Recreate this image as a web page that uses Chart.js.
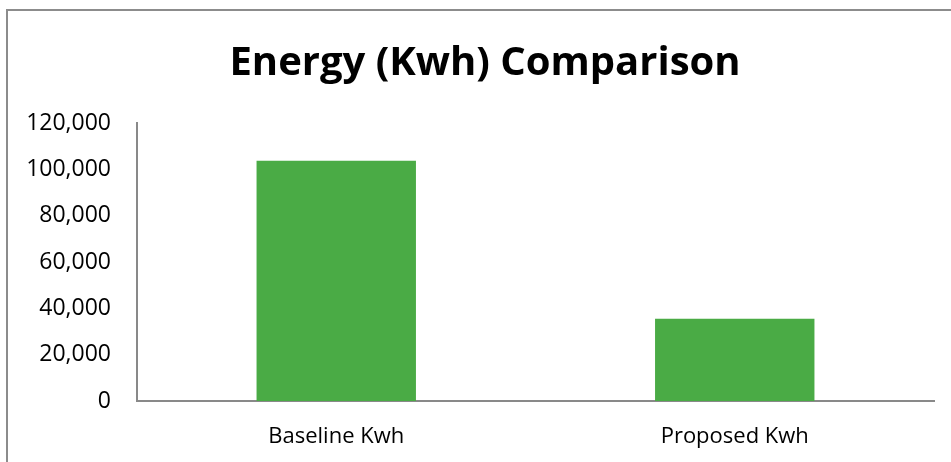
<!DOCTYPE html>
<html>
<head>
<meta charset="utf-8">
<script src="https://cdn.jsdelivr.net/npm/chart.js@4"></script>
<style>
html,body{margin:0;padding:0;background:#fff;}
#c{display:block;}
</style>
</head>
<body>
<canvas id="c" width="951" height="462"></canvas>
<script>
const categories = ["Baseline Kwh", "Proposed Kwh"];
const energyValues = [103700, 35500];
const yTicks = [0, 20000, 40000, 60000, 80000, 100000, 120000];
const titleText = "Energy (Kwh) Comparison";

const frame = {
  id: 'frame',
  beforeDraw(chart) {
    const ctx = chart.ctx;
    ctx.save();
    ctx.fillStyle = '#fff';
    ctx.fillRect(0, 0, chart.width, chart.height);
    ctx.strokeStyle = '#8c8c8c';
    ctx.lineWidth = 2;
    ctx.beginPath();
    ctx.moveTo(6, 10);
    ctx.lineTo(chart.width, 10);
    ctx.moveTo(7, 10);
    ctx.lineTo(7, chart.height);
    ctx.stroke();
    ctx.restore();
  },
  afterDraw(chart) {
    const ctx = chart.ctx;
    ctx.save();
    ctx.fillStyle = '#000';
    ctx.font = 'bold 40px "Open Sans"';
    ctx.textAlign = 'center';
    ctx.textBaseline = 'alphabetic';
    ctx.fillText(titleText, 485, 75);
    ctx.restore();
  }
};

new Chart(document.getElementById('c'), {
  type: 'bar',
  data: {
    labels: categories,
    datasets: [{
      data: energyValues,
      backgroundColor: '#4aab45',
      borderWidth: 0,
      categoryPercentage: 1,
      barPercentage: 0.4
    }]
  },
  options: {
    responsive: false,
    devicePixelRatio: 1,
    animation: false,
    layout: { padding: { left: 0, right: 17, top: 123, bottom: 0 } },
    plugins: {
      legend: { display: false },
      tooltip: { enabled: false },
      title: { display: false }
    },
    scales: {
      x: {
        grid: { display: false, drawTicks: false },
        border: { display: true, color: '#898989', width: 2 },
        ticks: { color: '#000', font: { family: 'Open Sans', size: 22 }, padding: 23 },
        afterFit(s) { s.height = 61; }
      },
      y: {
        min: 0,
        max: 120000,
        afterBuildTicks(s) { s.ticks = yTicks.map(v => ({ value: v })); },
        grid: { display: false, drawTicks: false },
        border: { display: true, color: '#898989', width: 2 },
        ticks: {
          color: '#000',
          font: { family: 'Open Sans', size: 23 },
          padding: 26,
          callback: v => v.toLocaleString('en-US')
        },
        afterFit(s) { s.width = 137; }
      }
    }
  },
  plugins: [frame]
});
</script>
</body>
</html>
